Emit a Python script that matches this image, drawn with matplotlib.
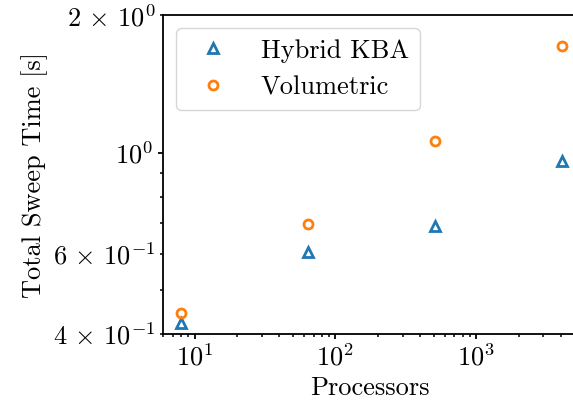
import matplotlib
matplotlib.use("Agg")
import matplotlib.pyplot as plt
from matplotlib.ticker import FuncFormatter

plt.rcParams['font.family'] = 'serif'
plt.rcParams['font.serif'] = ['cmr10']
plt.rcParams['mathtext.fontset'] = 'cm'
plt.rcParams['axes.formatter.use_mathtext'] = True
plt.rcParams['axes.unicode_minus'] = False
plt.rcParams['font.size'] = 19
plt.rcParams['axes.linewidth'] = 1.3

# processor counts and total sweep times
processors = [8, 64, 512, 4096]
hybrid_kba = [0.424, 0.604, 0.689, 0.957]
volumetric = [0.444, 0.696, 1.059, 1.71]

# minor y ticks that get a label
labelled_minor = {0.4: (4, -1), 0.6: (6, -1), 2.0: (2, 0)}


def minor_label(val, pos):
    for v, (m, e) in labelled_minor.items():
        if abs(val - v) < 1e-6:
            return r'$%d\,\times\,10^{%d}$' % (m, e)
    return ''


fig, ax = plt.subplots(figsize=(5.73, 4.11), dpi=100)
fig.subplots_adjust(left=0.285, right=1.005, top=0.963, bottom=0.187)

ax.plot(processors, hybrid_kba, linestyle='none', marker='^', fillstyle='none',
        markersize=6.5, markeredgewidth=2, color='C0', label='Hybrid KBA')
ax.plot(processors, volumetric, linestyle='none', marker='o', fillstyle='none',
        markersize=6.5, markeredgewidth=2, color='C1', label='Volumetric')

ax.set_xscale('log')
ax.set_yscale('log')
ax.set_xlim(6.0, 5100)
ax.set_ylim(0.4, 2.0)
ax.yaxis.set_minor_formatter(FuncFormatter(minor_label))
ax.tick_params(width=1.3)
ax.tick_params(which='minor', width=1.1)
ax.set_xlabel('Processors')
ax.set_ylabel('Total Sweep Time [s]')
ax.legend(loc='upper left', fancybox=True)

fig.savefig('out.png', dpi=100)
